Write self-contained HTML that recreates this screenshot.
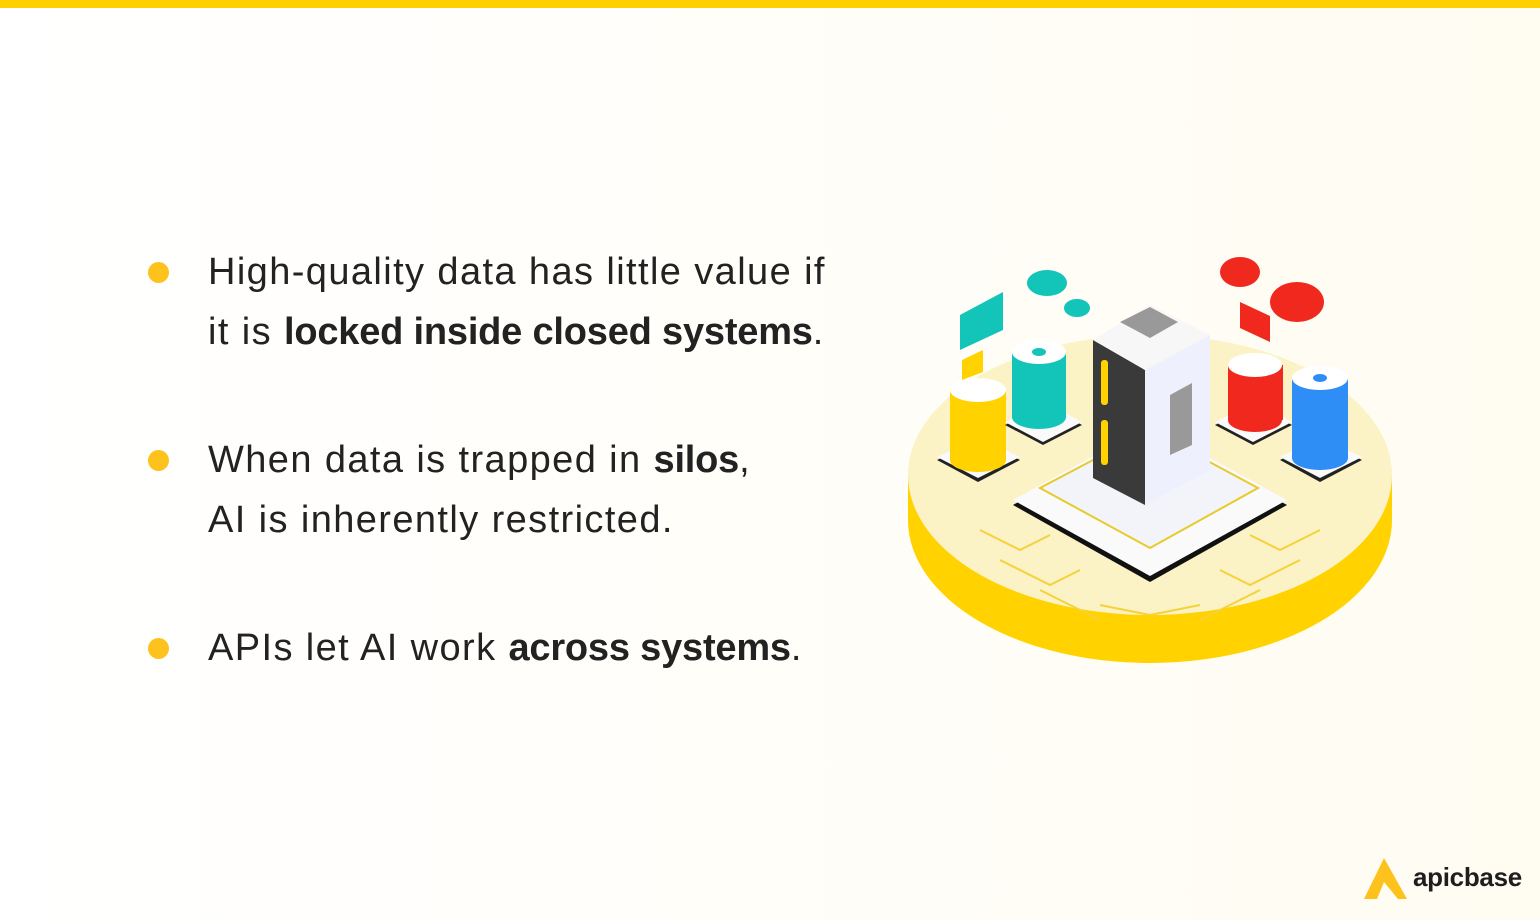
<!DOCTYPE html>
<html><head><style>
body{margin:0;width:1540px;height:920px;overflow:hidden;background:linear-gradient(90deg,#ffffff,#fffcf2);font-family:"Liberation Sans",sans-serif;position:relative}
.bar{position:absolute;left:0;top:0;width:1540px;height:8px;background:#ffd000}
.item{position:absolute;left:208px;font-size:38px;line-height:60px;color:#222;letter-spacing:1.4px}
.dot{position:absolute;left:148px;width:21px;height:21px;border-radius:50%;background:#fdc21c}
b{font-weight:bold;letter-spacing:-0.2px}
.logo{position:absolute;left:1413px;top:862px;font-size:26px;font-weight:bold;color:#1e1e1e;letter-spacing:-0.3px}
</style></head><body>
<div class="bar"></div>
<div class="dot" style="top:262px"></div>
<div class="item" style="top:242px">High-quality data has little value if<br>it is <b>locked inside closed systems</b>.</div>
<div class="dot" style="top:450px"></div>
<div class="item" style="top:430px">When data is trapped in <b>silos</b>,<br>AI is inherently restricted.</div>
<div class="dot" style="top:638px"></div>
<div class="item" style="top:618px">APIs let AI work <b>across systems</b>.</div>
<svg style="position:absolute;left:0;top:0" width="1540" height="920">
<ellipse cx="1150" cy="520" rx="242" ry="143" fill="#ffd200"/>
<rect x="908" y="475" width="484" height="45" fill="#ffd200"/>
<ellipse cx="1150" cy="475" rx="242" ry="140" fill="#fbf2c6"/>
<g stroke="#f5d23a" stroke-width="2" fill="none">
<path d="M980 530 l40 20 l30 -15 M1000 560 l50 25 l30 -15 M1040 590 l60 30 M1320 530 l-40 20 l-30 -15 M1300 560 l-50 25 l-30 -15 M1260 590 l-60 30 M1100 605 l50 10 l50 -10 M960 470 l40 -20 M1340 470 l-40 -20"/>
</g>
<path d="M1013 505 L1150 430 L1287 505 L1150 582 Z" fill="#111"/>
<path d="M1013 500 L1150 425 L1287 500 L1150 576 Z" fill="#fafafa"/>
<path d="M1040 488 L1150 430 L1258 488 L1150 548 Z" fill="#f3f4fa" stroke="#e6cb2a" stroke-width="2"/>
<path d="M1093 340 L1145 370 L1145 505 L1093 478 Z" fill="#3a3a3a"/>
<path d="M1145 370 L1210 335 L1210 470 L1145 505 Z" fill="#eef1fd"/>
<path d="M1093 340 L1150 305 L1210 335 L1145 370 Z" fill="#f7f7f7"/>
<path d="M1120 322 L1150 307 L1178 322 L1150 338 Z" fill="#999"/>
<rect x="1101" y="360" width="7" height="45" rx="3" fill="#ffd200"/>
<rect x="1101" y="420" width="7" height="45" rx="3" fill="#ffd200"/>
<path d="M1170 395 L1192 383 L1192 445 L1170 455 Z" fill="#999"/>
<g>
<path d="M937 460 L980 440 L1020 460 L978 482 Z" fill="#222"/><path d="M937 457 L980 437 L1020 457 L978 478 Z" fill="#fafafa"/>
<rect x="950" y="390" width="56" height="70" fill="#ffd200"/><ellipse cx="978" cy="460" rx="28" ry="12" fill="#ffd200"/><ellipse cx="978" cy="390" rx="28" ry="12" fill="#fff"/>
<path d="M1005 425 L1045 405 L1082 425 L1043 445 Z" fill="#222"/><path d="M1005 422 L1045 402 L1082 422 L1043 442 Z" fill="#fafafa"/>
<rect x="1012" y="352" width="54" height="65" fill="#13c4b8"/><ellipse cx="1039" cy="417" rx="27" ry="12" fill="#13c4b8"/><ellipse cx="1039" cy="352" rx="27" ry="12" fill="#fff"/><ellipse cx="1039" cy="352" rx="7" ry="4" fill="#13c4b8"/>
<path d="M1215 425 L1255 405 L1292 425 L1253 445 Z" fill="#222"/><path d="M1215 422 L1255 402 L1292 422 L1253 442 Z" fill="#fafafa"/>
<rect x="1228" y="365" width="55" height="55" fill="#f0281e"/><ellipse cx="1255" cy="420" rx="27" ry="12" fill="#f0281e"/><ellipse cx="1255" cy="365" rx="27" ry="12" fill="#fff"/>
<path d="M1280 460 L1320 440 L1362 460 L1320 482 Z" fill="#222"/><path d="M1280 457 L1320 437 L1362 457 L1320 478 Z" fill="#fafafa"/>
<rect x="1292" y="378" width="56" height="80" fill="#2e8ef5"/><ellipse cx="1320" cy="458" rx="28" ry="12" fill="#2e8ef5"/><ellipse cx="1320" cy="378" rx="28" ry="12" fill="#fff"/><ellipse cx="1320" cy="378" rx="7" ry="4" fill="#2e8ef5"/>
</g>
<path d="M960 315 L1003 292 L1003 330 L960 350 Z" fill="#13c4b8"/>
<path d="M962 360 L983 350 L983 372 L962 380 Z" fill="#ffd200"/>
<ellipse cx="1047" cy="283" rx="20" ry="13" fill="#13c4b8"/><ellipse cx="1077" cy="308" rx="13" ry="9" fill="#13c4b8"/>
<ellipse cx="1240" cy="272" rx="20" ry="15" fill="#f0281e"/><ellipse cx="1297" cy="302" rx="27" ry="20" fill="#f0281e"/>
<path d="M1240 302 L1270 316 L1270 342 L1240 328 Z" fill="#f0281e"/>
<path d="M1384 858 L1364 899 L1377 899 L1384 882 L1398 899 L1407 899 Z" fill="#fdc21c"/>
</svg>
<div class="logo">apicbase</div>
</body></html>
